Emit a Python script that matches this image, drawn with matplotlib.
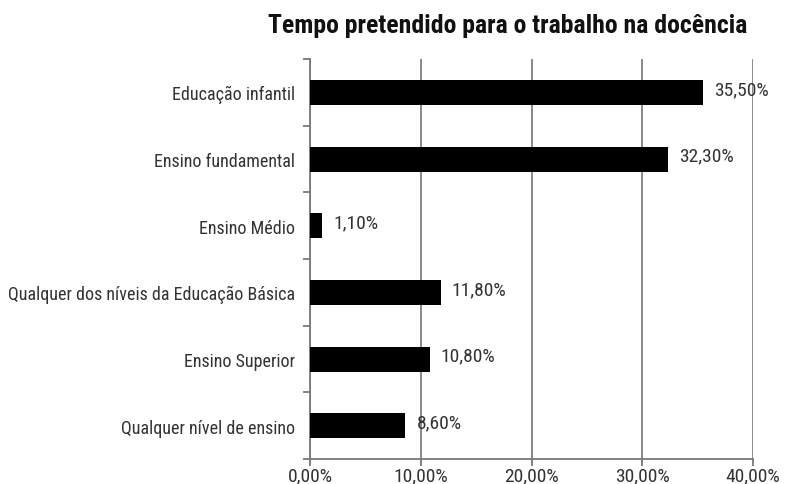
import matplotlib.pyplot as plt
import numpy as np

categorias = ["Educação infantil", "Ensino fundamental", "Ensino Médio",
              "Qualquer dos níveis da Educação Básica", "Ensino Superior",
              "Qualquer nível de ensino"]
valores = [35.5, 32.3, 1.1, 11.8, 10.8, 8.6]
xticks = [0, 10, 20, 30, 40]
rotulos_x = ["0,00%", "10,00%", "20,00%", "30,00%", "40,00%"]

plt.rcParams['font.family'] = ['Roboto Condensed', 'DejaVu Sans']

fig = plt.figure(figsize=(7.89, 4.85), dpi=100)
ax = fig.add_axes([0.393, 0.0515, 0.5615, 0.8247])

y = np.arange(len(categorias))
ax.barh(y, valores, height=0.375, color="black", zorder=3)
for yi, v in zip(y, valores):
    ax.text(v + 1.0, yi - 0.05, f"{v:.2f}%".replace(".", ","),
            va="center", ha="left", fontsize=14, color="#333333")

ax.set_xlim(0, 40)
ax.set_ylim(len(categorias) - 0.5, -0.5)
ax.set_xticks(xticks)
ax.set_xticklabels(rotulos_x, fontsize=14, color="#333333")
ax.set_yticks(y)
ax.set_yticklabels(categorias, fontsize=13, color="#333333")
ax.tick_params(axis="y", length=0, pad=11)
ax.set_yticks(np.arange(-0.5, len(categorias)), minor=True)
ax.tick_params(axis="y", which="minor", length=5, width=1.3, color="#777777")
ax.tick_params(axis="x", length=5, width=1.3, color="#777777", pad=0)

ax.grid(axis="x", color="#808080", linewidth=1.3, zorder=0)
for s in ["top", "right"]:
    ax.spines[s].set_visible(False)
for s in ["left", "bottom"]:
    ax.spines[s].set_color("#777777")
    ax.spines[s].set_linewidth(1.3)

fig.text(0.644, 0.947, "Tempo pretendido para o trabalho na docência",
         ha="center", va="center", fontsize=18.5, fontweight="bold",
         color="#111111")

fig.savefig("out.png", dpi=100)
